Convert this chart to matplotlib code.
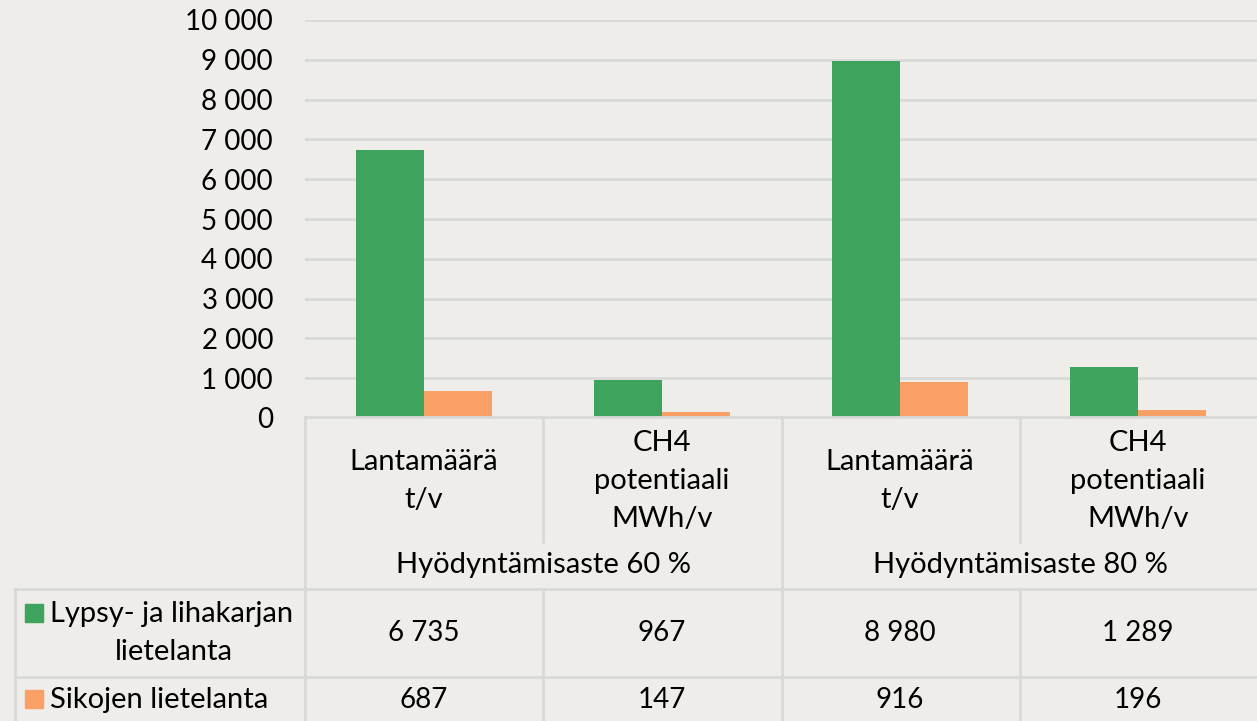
import matplotlib
matplotlib.use("Agg")
import matplotlib.pyplot as plt
from matplotlib.lines import Line2D
from matplotlib.patches import Rectangle

categories = ["Lantamäärä\nt/v", "CH4\npotentiaali\nMWh/v", "Lantamäärä\nt/v", "CH4\npotentiaali\nMWh/v"]
groups = ["Hyödyntämisaste 60 %", "Hyödyntämisaste 80 %"]
series_names = ["Lypsy- ja lihakarjan", "lietelanta", "Sikojen lietelanta"]
cattle = [6735, 967, 8980, 1289]
pigs = [687, 147, 916, 196]
yticks = list(range(0, 10001, 1000))

GREEN = "#3DA35D"
ORANGE = "#F9A066"
BG = "#EEEDEA"
GRID = "#D9D9D9"
FONT = "Lato"
FS = 21
FSN = 20

W, H = 1257, 721
fig = plt.figure(figsize=(W / 100, H / 100), dpi=100, facecolor=BG)

def fx(x):
    return x / W

def fy(y):
    return 1 - y / H

def fmt(v):
    return f"{v:,}".replace(",", " ")

left, right, top, bottom = 305, 1257, 20, 418
ax = fig.add_axes([fx(left), fy(bottom), fx(right) - fx(left), fy(top) - fy(bottom)])
ax.set_facecolor(BG)
ax.set_xlim(-0.5, len(categories) - 0.5)
ax.set_ylim(0, 10000)
for s in ax.spines.values():
    s.set_visible(False)
ax.set_yticks(yticks)
ax.set_yticklabels([fmt(v) for v in yticks], fontsize=FSN, family=FONT)
ax.tick_params(axis="y", length=0, pad=23)
ax.set_xticks([])
ax.yaxis.grid(True, color=GRID, lw=2)
ax.set_axisbelow(True)

bw = 68 / 238
xs = list(range(len(categories)))
ax.bar([x - bw / 2 for x in xs], cattle, width=bw, color=GREEN, zorder=3)
ax.bar([x + bw / 2 for x in xs], pigs, width=bw, color=ORANGE, zorder=3)

def hline(y, x0, x1):
    fig.add_artist(Line2D([fx(x0), fx(x1)], [fy(y), fy(y)], color=GRID, lw=2))

def vline(x, y0, y1):
    fig.add_artist(Line2D([fx(x), fx(x)], [fy(y0), fy(y1)], color=GRID, lw=2))

# table grid
hline(417, 305, 1257)
hline(589, 15, 1257)
hline(677, 15, 1257)
vline(305, 417, 721)
vline(782, 417, 721)
vline(543, 417, 542)
vline(1020, 417, 542)
vline(543, 589, 721)
vline(1020, 589, 721)
vline(15, 589, 721)

cat_centers = [424, 662, 900, 1138]
for cx, lab in zip(cat_centers, categories):
    fig.text(fx(cx), fy(481), lab, ha="center", va="center", fontsize=FS,
             family=FONT, linespacing=1.55)

for cx, g in zip([543, 1020], groups):
    fig.text(fx(cx), fy(565), g, ha="center", va="center", fontsize=FS, family=FONT)

for cx, v in zip(cat_centers, cattle):
    fig.text(fx(cx), fy(633), fmt(v), ha="center", va="center", fontsize=FSN, family=FONT)
for cx, v in zip(cat_centers, pigs):
    fig.text(fx(cx), fy(700), fmt(v), ha="center", va="center", fontsize=FSN, family=FONT)

# legend keys
fig.add_artist(Rectangle((fx(25), fy(622)), fx(18), fy(604) - fy(622), color=GREEN))
fig.add_artist(Rectangle((fx(25), fy(708)), fx(18), fy(690) - fy(708), color=ORANGE))
fig.text(fx(50), fy(614), series_names[0], ha="left", va="center", fontsize=FS, family=FONT)
fig.text(fx(174), fy(652), series_names[1], ha="center", va="center", fontsize=FS, family=FONT)
fig.text(fx(50), fy(700), series_names[2], ha="left", va="center", fontsize=FS, family=FONT)

fig.savefig("out.png", dpi=100, facecolor=BG)
